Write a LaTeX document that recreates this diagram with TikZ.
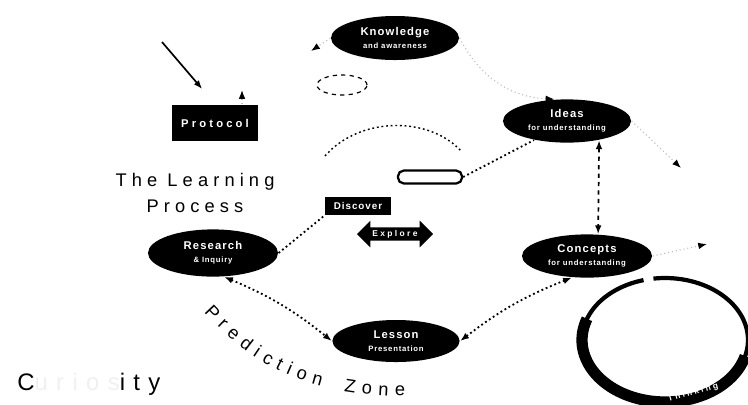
\documentclass[tikz,border=0pt]{standalone}
\usepackage{fontspec}
\setmainfont[LetterSpace=28]{Liberation Sans}
\usetikzlibrary{arrows.meta,shapes.geometric,shapes.arrows,decorations.text}
\newcommand{\segunda}[1]{{\fontsize{5.5}{7}\selectfont #1}}

\begin{document}
\begin{tikzpicture}[x=0.025cm,y=-0.025cm,line width=0.85pt,>={Latex[length=2.2mm]},
  etapa/.style={ellipse,fill=black,text=white,minimum width=3.2cm,minimum height=1.1cm,
    inner sep=0pt,align=center,font=\bfseries\fontsize{8}{9}\selectfont\addfontfeature{LetterSpace=10}},
  caja/.style={fill=black,text=white,inner sep=0pt,font=\bfseries\fontsize{7}{8}\selectfont\addfontfeature{LetterSpace=10}},
  flujo/.style={line width=1.3pt,dotted},
  tenue/.style={line width=0.8pt,dotted,black!25}]
  \useasboundingbox (0,0) rectangle (748,404);
  % etapas del ciclo
  \node[etapa] (saber) at (395,38) {Knowledge\\\segunda{and awareness}};
  \node[etapa,minimum width=3.2cm,minimum height=1.08cm] (ideas) at (567,121) {Ideas\\\segunda{for understanding}};
  \node[etapa,minimum width=3.25cm,minimum height=1.08cm] (conceptos) at (587,256) {Concepts\\\segunda{for understanding}};
  \node[etapa,minimum width=3.25cm,minimum height=1.18cm] (indagacion) at (213,253) {Research\\\segunda{\& Inquiry}};
  \node[etapa,minimum width=3.18cm,minimum height=1.05cm] (leccion) at (396,341) {Lesson\\\segunda{Presentation}};
  \node[draw,dashed,ellipse,minimum width=1.25cm,minimum height=0.5cm] (nota) at (342,85) {};
  \node[caja,minimum width=2.15cm,minimum height=0.92cm,font=\bfseries\fontsize{8}{9}\selectfont] (protocolo) at (215,123) {Protocol};
  \node[draw,line width=1.6pt,rounded corners=4pt,minimum width=1.6cm,minimum height=0.32cm,inner sep=0pt] (puente) at (430,177) {};
  \node[caja,minimum width=1.65cm,minimum height=0.45cm] (descubrir) at (358,206) {Discover};
  \node[double arrow,fill=black,text=white,inner sep=1.5pt,minimum height=1.9cm,
    double arrow head extend=0.17cm,font=\bfseries\fontsize{6}{7}\selectfont] (explorar) at (395,234) {Explore};
  \node[align=center,font=\fontsize{13}{18.5}\selectfont] (titulo) at (195,193) {The Learning\\Process};
  \node[anchor=west,font=\fontsize{17}{20}\selectfont\addfontfeature{LetterSpace=35}] (curiosidad) at (12,384) {C\textcolor{black!6}{urios}ity};
  % conectores
  \coordinate (entrada) at (162,42);
  \coordinate (kl) at (311,51);
  \coordinate (pl) at (242,90);
  \coordinate (cd1) at (681,168);
  \coordinate (cd2) at (707,244);
  \draw[->,line width=1.2pt,shorten >=14pt] (entrada) -- (protocolo.north);
  \draw[tenue,-{Latex[length=2.2mm,color=black]}] (saber.west) -- (kl);
  \draw[tenue,-{Latex[length=2.2mm,color=black]}] (protocolo.north -| pl) -- (pl);
  \draw[tenue,-{Latex[length=2.2mm,color=black]}] (saber.east) to[bend right=30] (ideas.120);
  \draw[dashed,line width=1.2pt,<->] (ideas.-31) -- (conceptos.63);
  \draw[flujo] (puente.east) -- (ideas.210);
  \draw[flujo] (indagacion.east) -- (descubrir.south west);
  \draw[flujo,<->] (indagacion.-65) to[bend left=8] (leccion.west);
  \draw[flujo,<->] (leccion.east) to[bend left=8] (conceptos.-125);
  \draw[tenue,-{Latex[length=2.2mm,color=black]}] (ideas.east) -- (cd1);
  \draw[tenue,-{Latex[length=2.2mm,color=black]}] (conceptos.east) -- (cd2);
  \draw[flujo,line width=1pt] (325,156) .. controls (360,116) and (430,116) .. (462,152);
  % anillo
  \draw[line width=3pt,domain=262:615,samples=90,smooth,variable=\t] plot ({665+83*cos(\t)},{340+62*sin(\t)});
  \draw[line width=8pt,domain=15:200,samples=60,smooth,variable=\t] plot ({665+83*cos(\t)},{340+62*sin(\t)});
  \node[text=white,rotate=15,font=\bfseries\fontsize{6}{7}\selectfont] (pensar) at (693,393) {Thinking};
  % zona curva
  \path[decorate,decoration={text along path,text align=fit to path,
    text={|\fontsize{13}{13}\selectfont|Prediction Zone}}]
    (204,312) .. controls (250,362) and (300,395) .. (405,396);
\end{tikzpicture}
\end{document}
